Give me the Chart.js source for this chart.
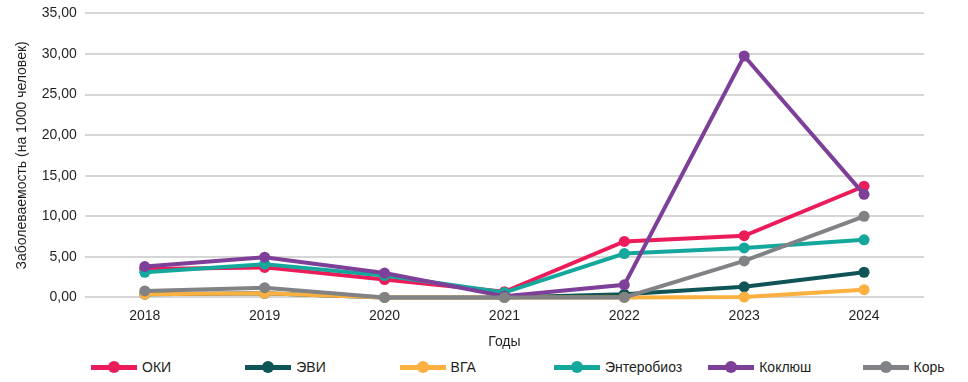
<!DOCTYPE html>
<html>
<head>
<meta charset="utf-8">
<script src="https://cdn.jsdelivr.net/npm/chart.js@4.4.1/dist/chart.umd.min.js"></script>
<style>
  html, body { margin: 0; padding: 0; background: #fff; overflow: hidden; }
  #wrap { position: relative; width: 968px; height: 382px; overflow: hidden; }
  #c { position: absolute; left: 0; top: -3px; }
  #legend { position: absolute; left: 0; top: 357px; width: 968px; height: 20px;
            font-family: "Liberation Sans", Arial, sans-serif; font-size: 14px; color: #231f20; }
  .item { position: absolute; top: 0; height: 20px; display: flex; align-items: center; }
  .mk { position: relative; width: 46px; height: 12px; margin-right: 5px; }
  .mk .ln { position: absolute; left: 0; right: 0; top: 4px; height: 5px; }
  .mk .pt { position: absolute; left: 17px; top: 0; width: 12px; height: 12px; border-radius: 50%; }
</style>
</head>
<body>
<div id="wrap">
  <canvas id="c" width="968" height="355"></canvas>
  <div id="legend"></div>
</div>
<script>
const years = ["2018", "2019", "2020", "2021", "2022", "2023", "2024"];
const seriesNames = ["ОКИ", "ЭВИ", "ВГА", "Энтеробиоз", "Коклюш", "Корь"];
const oki        = [3.5, 3.7, 2.2, 0.7, 6.9, 7.6, 13.7];
const evi        = [0.4, 0.5, 0.0, 0.0, 0.4, 1.3, 3.1];
const vga        = [0.4, 0.5, 0.0, 0.0, 0.0, 0.05, 0.95];
const enterobioz = [3.1, 4.1, 2.7, 0.6, 5.4, 6.1, 7.1];
const koklyush   = [3.8, 4.95, 3.0, 0.15, 1.55, 29.75, 12.7];
const kor        = [0.8, 1.2, 0.0, 0.0, 0.0, 4.5, 10.0];
const colors = ["#ec1c5a", "#0f5557", "#fbb040", "#14a89c", "#7d3f98", "#808285"];
const yTitle = "Заболеваемость (на 1000 человек)";
const xTitle = "Годы";
const yMax = 35, yStep = 5;

const allSeries = [oki, evi, vga, enterobioz, koklyush, kor];
const font = "'Liberation Sans', Arial, sans-serif";

const datasets = allSeries.map((d, i) => ({
  label: seriesNames[i],
  data: d,
  borderColor: colors[i],
  backgroundColor: colors[i],
  pointBackgroundColor: colors[i],
  pointBorderColor: colors[i],
  borderWidth: 4,
  pointRadius: 5.5,
  pointHoverRadius: 5.5,
  pointBorderWidth: 0,
  tension: 0,
  clip: false,
  order: allSeries.length - i
}));

new Chart(document.getElementById("c"), {
  type: "line",
  data: { labels: years, datasets },
  options: {
    responsive: false,
    animation: false,
    layout: { padding: { left: 14, right: 44, top: 0, bottom: 1 } },
    plugins: { legend: { display: false }, tooltip: { enabled: false } },
    scales: {
      x: {
        offset: true,
        grid: { display: false, drawTicks: false },
        border: { display: false },
        ticks: { color: "#231f20", font: { family: font, size: 14 }, padding: 10 },
        title: { display: true, text: xTitle, color: "#231f20", font: { family: font, size: 14 }, padding: { top: 0, bottom: 0 } }
      },
      y: {
        min: 0, max: yMax,
        grid: { color: "#d6d6d6", lineWidth: 2, drawTicks: false },
        border: { display: false },
        ticks: {
          stepSize: yStep, color: "#231f20", padding: 8,
          font: { family: font, size: 14 },
          callback: v => v.toFixed(2).replace(".", ",")
        },
        title: { display: true, text: yTitle, color: "#231f20", font: { family: font, size: 14 }, padding: { top: 0, bottom: 3 } }
      }
    }
  }
});

const legend = document.getElementById("legend");
seriesNames.forEach((name, i) => {
  const it = document.createElement("div");
  it.className = "item";
  it.style.left = (91 + 154.3 * i) + "px";
  it.innerHTML = '<div class="mk"><div class="ln" style="background:' + colors[i] + '"></div><div class="pt" style="background:' + colors[i] + '"></div></div><span></span>';
  it.querySelector("span").textContent = name;
  legend.appendChild(it);
});
</script>
</body>
</html>
